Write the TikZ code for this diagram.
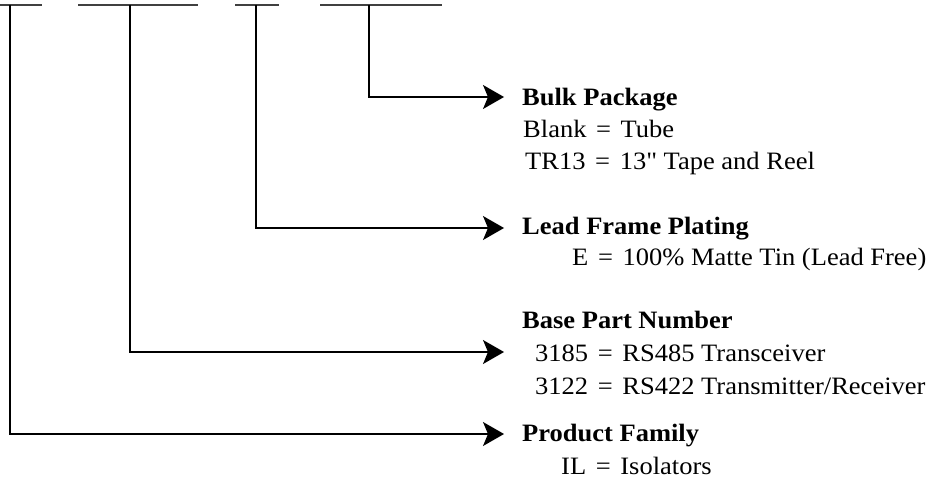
\documentclass[tikz,border=0pt]{standalone}
\usepackage{fontspec}
\setmainfont{Liberation Serif}[FakeStretch=1.06]
\newfontfamily\plainquote{Liberation Serif}[FakeStretch=1.06, Ligatures=TeXOff]
\usetikzlibrary{arrows.meta}
\newcommand{\myeq}{\hspace{3pt}=\hspace{3pt}}
\begin{document}
\begin{tikzpicture}[x=1pt,y=-1pt,
  bar/.style={line width=1.6pt, draw=black!75},
  conn/.style={line width=1.2pt, -{Stealth[length=21pt,width=24pt,inset=5pt]}},
  head/.style={anchor=base west, inner sep=0pt, font=\fontsize{25}{30}\selectfont\bfseries},
  desc/.style={anchor=base west, inner sep=0pt, font=\fontsize{25}{30}\selectfont}]
\useasboundingbox (0,0) rectangle (928,495);
% top bars
\draw[bar] (0,5) -- (42,5);
\draw[bar] (78,5) -- (198,5);
\draw[bar] (235,5) -- (279,5);
\draw[bar] (320,5) -- (442,5);
\coordinate (s1) at (10,5);
\coordinate (s2) at (130,5);
\coordinate (s3) at (256,5);
\coordinate (s4) at (369,5);
% text
\node[head] (bulk) at (522,105) {Bulk Package};
\node[desc] (bulk1) at (523,137) {Blank \myeq{} Tube};
\node[desc] (bulk2) at (525,169) {TR13 \myeq{} 13{\plainquote "} Tape and Reel};
\node[head] (lead) at (522,234) {Lead Frame Plating};
\node[desc] (lead1) at (572,265) {E \myeq{} 100\% Matte Tin (Lead Free)};
\node[head] (base) at (522,328) {Base Part Number};
\node[desc] (base1) at (535,361) {3185 \myeq{} RS485 Transceiver};
\node[desc] (base2) at (535,394) {3122 \myeq{} RS422 Transmitter/Receiver};
\node[head] (fam) at (522,441) {Product Family};
\node[desc] (fam1) at (561,474) {IL \myeq{} Isolators};
% arrow tips
\coordinate (t4) at (504,97);
\coordinate (t3) at (504,228);
\coordinate (t2) at (504,352);
\coordinate (t1) at (504,434);
% connectors
\draw[conn] (s4) |- (t4);
\draw[conn] (s3) |- (t3);
\draw[conn] (s2) |- (t2);
\draw[conn] (s1) |- (t1);
\end{tikzpicture}
\end{document}
